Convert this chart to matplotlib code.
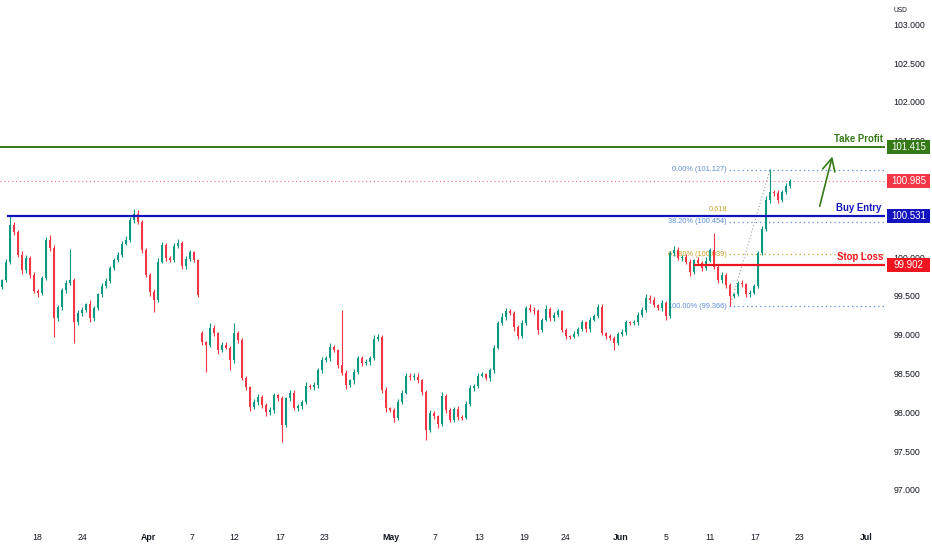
import matplotlib
matplotlib.use("Agg")
import matplotlib.pyplot as plt
import matplotlib.transforms as mtransforms
from matplotlib.patches import Rectangle
import numpy as np

# ---- data (4H-ish candles) ----
first_open = 99.62
closes = [
    99.70, 99.94, 100.41, 100.32, 100.03, 99.83, 99.99, 99.77, 99.56, 99.54,
    99.73, 100.22, 100.12, 99.21, 99.36, 99.57, 99.66, 99.70, 99.16, 99.28,
    99.32, 99.39, 99.21, 99.34, 99.52, 99.63, 99.69, 99.86, 99.96, 100.03,
    100.17, 100.22, 100.48, 100.55, 100.45, 100.09, 99.77, 99.55, 99.45, 99.94,
    100.15, 99.99, 99.96, 100.14, 100.18, 99.88, 99.97, 100.06, 99.96, 99.51,
    98.90, 98.87, 99.09, 99.02, 98.80, 98.87, 98.83, 98.67, 99.02, 98.93,
    98.44, 98.32, 98.07, 98.13, 98.20, 98.09, 98.00, 98.03, 98.22, 98.18,
    97.84, 98.18, 98.25, 98.05, 98.08, 98.13, 98.34, 98.32, 98.35, 98.54,
    98.67, 98.70, 98.84, 98.80, 98.61, 98.51, 98.35, 98.41, 98.52, 98.70,
    98.63, 98.65, 98.70, 98.94, 98.97, 98.29, 98.05, 98.03, 97.93, 98.13,
    98.25, 98.47, 98.45, 98.46, 98.41, 98.26, 97.77, 97.99, 97.95, 97.85,
    98.21, 98.03, 97.90, 98.04, 97.94, 97.93, 98.11, 98.31, 98.34, 98.47,
    98.49, 98.44, 98.54, 98.83, 99.15, 99.23, 99.30, 99.28, 99.10, 98.98,
    99.15, 99.34, 99.32, 99.31, 99.06, 99.19, 99.33, 99.21, 99.25, 99.30,
    99.06, 98.98, 98.97, 99.01, 99.07, 99.16, 99.07, 99.19, 99.24, 99.36,
    99.02, 98.98, 98.96, 98.89, 99.01, 99.03, 99.16, 99.15, 99.16, 99.25,
    99.32, 99.47, 99.45, 99.38, 99.34, 99.41, 99.24, 100.05, 100.09, 99.99,
    100.00, 99.94, 99.81, 99.96, 99.92, 99.86, 99.95, 100.09, 99.87, 99.70,
    99.77, 99.64, 99.50, 99.52, 99.66, 99.65, 99.52, 99.54, 99.63, 100.05,
    100.36, 100.73, 100.84, 100.83, 100.73, 100.84, 100.91, 100.985,
]
gap_opens = {50: 99.02}

# wick lengths in hundredths
up_wick = [
    2, 3, 12, 4, 3, 5, 3, 2, 4, 3,
    3, 4, 6, 3, 2, 3, 4, 40, 3, 4,
    3, 2, 5, 3, 2, 3, 4, 2, 3, 4,
    3, 5, 4, 7, 5, 3, 2, 3, 4, 5,
    4, 3, 2, 4, 5, 3, 4, 3, 2, 2,
    3, 2, 6, 3, 2, 4, 3, 2, 13, 3,
    2, 3, 2, 4, 3, 2, 3, 4, 3, 2,
    3, 2, 4, 3, 2, 3, 5, 3, 4, 3,
    4, 3, 5, 3, 2, 71, 3, 2, 4, 3,
    3, 4, 3, 5, 4, 2, 3, 2, 3, 4,
    3, 4, 3, 5, 4, 2, 3, 4, 3, 2,
    5, 3, 2, 3, 4, 2, 3, 4, 3, 4,
    3, 2, 3, 4, 3, 5, 4, 3, 2, 3,
    4, 3, 6, 3, 2, 3, 5, 3, 4, 3,
    2, 3, 2, 4, 3, 3, 2, 4, 3, 4,
    3, 2, 3, 2, 3, 4, 3, 2, 3, 4,
    3, 5, 4, 3, 2, 3, 2, 3, 5, 4,
    3, 4, 3, 2, 4, 3, 5, 3, 22, 3,
    4, 2, 3, 2, 3, 4, 2, 3, 2, 3,
    4, 5, 29, 3, 4, 3, 4, 2,
]
dn_wick = [
    3, 2, 3, 4, 3, 5, 3, 4, 3, 5,
    3, 2, 4, 24, 3, 4, 3, 2, 27, 3,
    4, 3, 5, 3, 2, 4, 3, 2, 3, 2,
    3, 2, 3, 4, 3, 4, 3, 5, 16, 3,
    2, 4, 3, 3, 2, 4, 3, 2, 3, 2,
    4, 35, 3, 4, 5, 3, 2, 13, 3, 4,
    3, 4, 5, 3, 4, 3, 5, 3, 4, 3,
    22, 3, 4, 2, 3, 4, 3, 2, 3, 4,
    3, 2, 4, 3, 4, 3, 5, 3, 4, 3,
    3, 2, 4, 3, 2, 4, 5, 3, 6, 3,
    3, 2, 3, 4, 3, 4, 13, 3, 4, 5,
    3, 4, 3, 2, 4, 3, 2, 3, 4, 3,
    2, 3, 4, 3, 2, 3, 4, 3, 5, 4,
    3, 2, 3, 4, 5, 3, 2, 4, 3, 2,
    3, 4, 3, 2, 3, 2, 4, 3, 2, 3,
    3, 4, 3, 9, 2, 3, 4, 3, 2, 3,
    2, 3, 4, 3, 2, 3, 5, 3, 4, 3,
    4, 3, 5, 3, 2, 4, 3, 2, 3, 4,
    3, 4, 13, 3, 2, 3, 4, 3, 2, 3,
    3, 2, 3, 4, 3, 2, 3, 2,
]

tick_pos = [8.75, 20, 36.5, 47.5, 58, 69.5, 80.5, 97.25, 108.25, 119.25,
            130.5, 140.75, 154.75, 166, 177, 188.25, 199.25, 216]
tick_labels = ["18", "24", "Apr", "7", "12", "17", "23", "May", "7", "13",
               "19", "24", "Jun", "5", "11", "17", "23", "Jul"]
month_labels = {"Apr", "May", "Jun", "Jul"}

# price scale labels that are not hidden behind the level boxes
price_ticks = [97.0, 97.5, 98.0, 98.5, 99.0, 99.5, 100.0, 101.5, 102.0, 102.5, 103.0]

take_profit = 101.415
buy_entry = 100.531
stop_loss = 99.902
last_price = 100.985
fib_high = 101.127
fib_low = 99.366
fib_levels = [(0.0, "0.00%"), (0.382, "38.20%"), (0.618, "61.80%"), (1.0, "100.00%")]
fib_low_bar, fib_high_bar = 182, 192

GREEN = "#089981"
RED = "#f23645"
TP_COL = "#367a17"
BE_COL = "#1414bf"
SL_COL = "#ee1520"
FIB_BLUE = "#5b8fd6"
FIB_GOLD = "#c9a227"
TXT = "#131722"

plt.rcParams["font.family"] = ["Liberation Sans", "DejaVu Sans"]

fig = plt.figure(figsize=(9.32, 5.5), dpi=100)
ax = fig.add_axes([0, 30 / 550, 885 / 932, 520 / 550])

closes = np.array(closes)
opens = np.r_[first_open, closes[:-1]]
for k, v in gap_opens.items():
    opens[k] = v
highs = np.maximum(opens, closes) + np.array(up_wick) / 100
lows = np.minimum(opens, closes) - np.array(dn_wick) / 100
x = np.arange(len(closes))
cols = np.where(closes >= opens, GREEN, RED)

ax.vlines(x, lows, highs, colors=cols, lw=0.8, zorder=4)
ax.bar(x, np.maximum(np.abs(closes - opens), 0.012), bottom=np.minimum(opens, closes),
       width=0.7, color=cols, linewidth=0, zorder=5)

xmax = 220.75
ax.set_xlim(-0.5, xmax)
ax.set_ylim(96.611, 103.312)


def bx(px):
    return (px - 2) / 4


# horizontal levels
ax.axhline(take_profit, color=TP_COL, lw=1.4, zorder=6)
ax.plot([bx(8), xmax], [buy_entry] * 2, color=BE_COL, lw=1.6, zorder=6)
ax.plot([bx(695), xmax], [stop_loss] * 2, color=SL_COL, lw=1.6, zorder=6)
ax.axhline(last_price, color=RED, lw=0.8, ls=(0, (1, 2.5)), alpha=0.7, zorder=2)

lbl = dict(fontsize=6.9, fontweight="bold", ha="right", va="bottom", zorder=7)
ax.text(bx(883), take_profit + 0.035, "Take Profit", color=TP_COL, **lbl)
ax.text(bx(881), buy_entry + 0.035, "Buy Entry", color=BE_COL, **lbl)
ax.text(bx(883), stop_loss + 0.035, "Stop Loss", color=SL_COL, **lbl)

# fibonacci retracement
rng = fib_high - fib_low
for lvl, name in fib_levels:
    p = fib_high - lvl * rng
    c = FIB_GOLD if lvl == 0.618 else FIB_BLUE
    ax.plot([bx(729), xmax], [p, p], color=c, lw=0.9, ls=(0, (1, 2.5)), zorder=2)
    ax.text(bx(727), p, f"{name} ({p:.3f})", color=c, fontsize=5.3,
            ha="right", va="center", zorder=3)
ax.text(bx(727), buy_entry + 0.035, "0.618", color=FIB_GOLD, fontsize=5.3,
        ha="right", va="bottom", zorder=3)
ax.plot([fib_low_bar, fib_high_bar], [fib_low, fib_high], color="#9e9e9e",
        lw=0.8, ls=(0, (1, 2)), zorder=3)

# arrow
ax.annotate("", xy=(bx(833), 101.33), xytext=(bx(819), 100.62),
            arrowprops=dict(arrowstyle="->,head_length=0.9,head_width=0.45",
                            color=TP_COL, lw=1.2), zorder=7)

# axes styling
for s in ax.spines.values():
    s.set_visible(False)
ax.yaxis.tick_right()
ax.set_yticks(price_ticks)
ax.set_yticklabels([f"{v:.3f}" for v in price_ticks])
ax.tick_params(axis="y", length=0, pad=6, labelsize=6.3, labelcolor=TXT)
ax.set_xticks(tick_pos)
ax.set_xticklabels(tick_labels)
ax.tick_params(axis="x", length=0, pad=9, labelsize=6.3, labelcolor=TXT)
for t in ax.get_xticklabels():
    if t.get_text() in month_labels:
        t.set_fontweight("bold")

fig.text(893 / 932, 1 - 10 / 550, "USD", fontsize=4.8, color=TXT, ha="left", va="center")

# price boxes on the axis
trans = mtransforms.blended_transform_factory(fig.transFigure, ax.transData)
h = 14 / 520 * (103.312 - 96.611)
for val, col in [(take_profit, TP_COL), (last_price, RED), (buy_entry, BE_COL), (stop_loss, SL_COL)]:
    ax.add_patch(Rectangle((887 / 932, val - h / 2), 43 / 932, h, transform=trans,
                           facecolor=col, edgecolor="none", clip_on=False, zorder=8))
    ax.text(908.5 / 932, val, f"{val:.3f}", transform=trans, color="white",
            fontsize=7, ha="center", va="center", zorder=9, clip_on=False)

fig.savefig("out.png", dpi=100, facecolor="white")
